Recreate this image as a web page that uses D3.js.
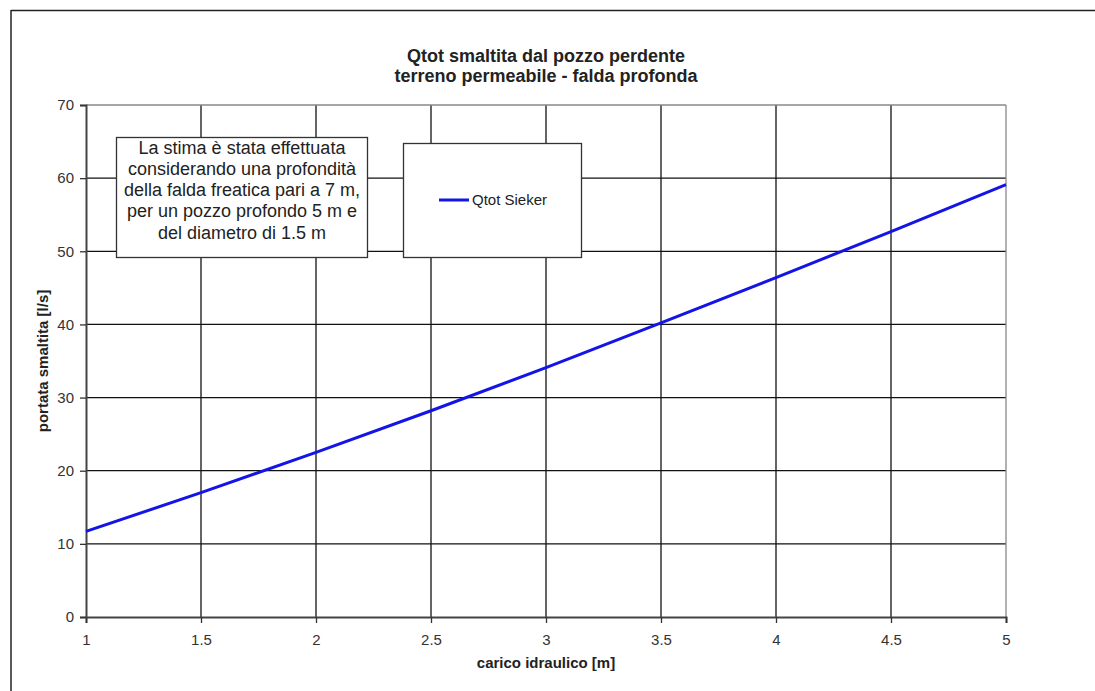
<!DOCTYPE html>
<html><head><meta charset="utf-8">
<script src="https://cdn.jsdelivr.net/npm/d3@7"></script>
<style>body{margin:0;background:#fff;} text{font-family:"Liberation Sans",Arial,sans-serif;}</style>
</head><body>
<svg id="c" width="1095" height="691"></svg>
<script>
const xValues = [1, 1.5, 2, 2.5, 3, 3.5, 4, 4.5, 5];
const qtotSieker = [11.7, 17.0, 22.5, 28.2, 34.1, 40.2, 46.4, 52.7, 59.1];
const xTicks = [1, 1.5, 2, 2.5, 3, 3.5, 4, 4.5, 5];
const yTicks = [0, 10, 20, 30, 40, 50, 60, 70];
const titleLines = ["Qtot smaltita dal pozzo perdente", "terreno permeabile - falda profonda"];
const noteLines = ["La stima è stata effettuata", "considerando una profondità", "della falda freatica pari a 7 m,", "per un pozzo profondo 5 m e", "del diametro di 1.5 m"];
const seriesName = "Qtot Sieker";
const xLabel = "carico idraulico [m]";
const yLabel = "portata smaltita [l/s]";

const svg = d3.select("#c");
const L = 86, R = 1006, T = 105, B = 617;
const x = d3.scaleLinear().domain([1, 5]).range([L, R]);
const y = d3.scaleLinear().domain([0, 70]).range([B, T]);

// outer frame
svg.append("line").attr("x1", 11).attr("x2", 1095).attr("y1", 10.5).attr("y2", 10.5).attr("stroke", "#222").attr("stroke-width", 1.5);
svg.append("line").attr("x1", 11).attr("x2", 11).attr("y1", 10).attr("y2", 691).attr("stroke", "#222").attr("stroke-width", 1.5);

// grid
svg.append("g").selectAll("line").data(yTicks.filter(d => d > 0 && d < 70)).join("line")
  .attr("x1", L).attr("x2", R).attr("y1", d => y(d)).attr("y2", d => y(d)).attr("stroke", "#111").attr("stroke-width", 1.3);
svg.append("g").selectAll("line").data(xTicks.filter(d => d > 1 && d < 5)).join("line")
  .attr("x1", d => x(d)).attr("x2", d => x(d)).attr("y1", T).attr("y2", B).attr("stroke", "#111").attr("stroke-width", 1.3);
// plot border top/right
svg.append("line").attr("x1", L).attr("x2", R).attr("y1", T).attr("y2", T).attr("stroke", "#888").attr("stroke-width", 1.3);
svg.append("line").attr("x1", R).attr("x2", R).attr("y1", T).attr("y2", B).attr("stroke", "#888").attr("stroke-width", 1.3);

// axes
const xAxis = svg.append("g").attr("transform", `translate(0,${B})`)
  .call(d3.axisBottom(x).tickValues(xTicks).tickSize(6).tickPadding(11).tickFormat(d3.format("~g")));
const yAxis = svg.append("g").attr("transform", `translate(${L},0)`)
  .call(d3.axisLeft(y).tickValues(yTicks).tickSize(6).tickPadding(6));
[xAxis, yAxis].forEach(g => {
  g.select(".domain").attr("stroke", "#444").attr("stroke-width", 2);
  g.selectAll(".tick line").attr("stroke", "#333").attr("stroke-width", 1.3);
  g.selectAll(".tick text").attr("fill", "#333").style("font-size", "15px").style("font-family", "Liberation Sans, Arial, sans-serif");
});

// series
svg.append("path").datum(xValues.map((d, i) => [d, qtotSieker[i]]))
  .attr("fill", "none").attr("stroke", "#1414e6").attr("stroke-width", 3)
  .attr("d", d3.line().x(d => x(d[0])).y(d => y(d[1])));

// title
svg.append("text").attr("x", 546).attr("text-anchor", "middle").attr("font-weight", "bold").attr("fill", "#222").style("font-size", "18px")
  .selectAll("tspan").data(titleLines).join("tspan").attr("x", 546).attr("y", (d, i) => 62 + i * 20).text(d => d);

// axis titles
svg.append("text").attr("x", 546).attr("y", 668).attr("text-anchor", "middle").attr("font-weight", "bold").attr("fill", "#222").style("font-size", "15px").text(xLabel);
svg.append("text").attr("transform", "translate(48,361) rotate(-90)").attr("text-anchor", "middle").attr("font-weight", "bold").attr("fill", "#222").style("font-size", "15px").text(yLabel);

// note box
svg.append("rect").attr("x", 116.5).attr("y", 137.5).attr("width", 251).attr("height", 120).attr("fill", "#fff").attr("stroke", "#333").attr("stroke-width", 1.3);
svg.append("text").attr("text-anchor", "middle").attr("fill", "#222").style("font-size", "18px")
  .selectAll("tspan").data(noteLines).join("tspan").attr("x", 242).attr("y", (d, i) => 153.5 + i * 21.3).text(d => d);

// legend box
svg.append("rect").attr("x", 403.5).attr("y", 143.5).attr("width", 178).attr("height", 114).attr("fill", "#fff").attr("stroke", "#333").attr("stroke-width", 1.3);
svg.append("line").attr("x1", 439).attr("x2", 469).attr("y1", 200).attr("y2", 200).attr("stroke", "#1414e6").attr("stroke-width", 3);
svg.append("text").attr("x", 472).attr("y", 205).attr("fill", "#222").style("font-size", "15px").text(seriesName);
</script>
</body></html>
